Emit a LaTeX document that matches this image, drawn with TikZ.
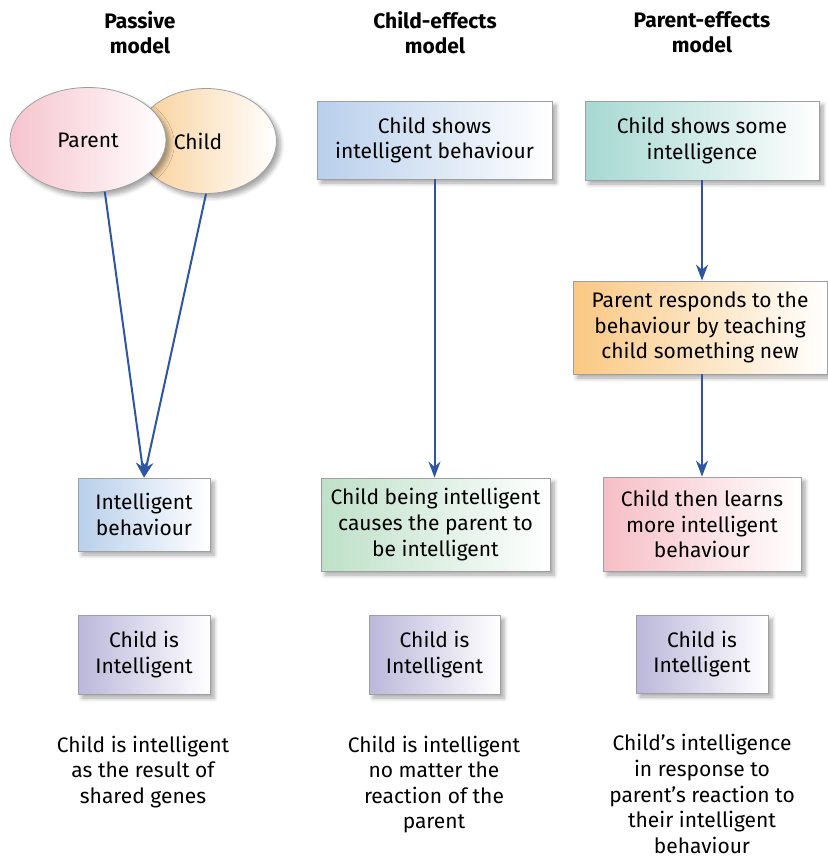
\documentclass[tikz,border=0pt]{standalone}
\usepackage{fontspec}
\setmainfont{Fira Sans}
\usetikzlibrary{positioning, arrows.meta, shapes.geometric, shadows.blur}

\definecolor{parentpink}{RGB}{246,196,206}
\definecolor{childorange}{RGB}{249,206,150}
\definecolor{boxblue}{RGB}{184,207,235}
\definecolor{boxgreen}{RGB}{190,224,200}
\definecolor{boxteal}{RGB}{166,216,210}
\definecolor{boxorange}{RGB}{250,200,130}
\definecolor{boxpink}{RGB}{246,190,198}
\definecolor{boxlilac}{RGB}{187,183,218}
\definecolor{linkblue}{RGB}{46,84,164}

\begin{document}
\begin{tikzpicture}[
  x=0.5pt, y=-0.5pt,
  font=\fontsize{10.5}{12.8}\selectfont,
  head/.style={font=\fontsize{10.5}{12.5}\selectfont\bfseries, align=center},
  card/.style={draw=gray!75, line width=0.4pt, align=center, inner sep=2pt,
    blur shadow={shadow xshift=2pt, shadow yshift=-2pt, shadow blur steps=6, shadow opacity=35}},
  blob/.style={card, ellipse},
  tint/.style={left color=#1, right color=white},
  note/.style={align=center},
  link/.style={-{Stealth[length=8pt, width=6pt]}, line width=1pt, draw=linkblue}
]
\useasboundingbox (0,0) rectangle (827,857);

% --- column headings ---
\node[head] (hpassive) at (140,32.5) {Passive\\model};
\node[head] (hchild)   at (435,32.5) {Child-effects\\model};
\node[head] (hparent)  at (702,32.5) {Parent-effects\\model};

% --- passive model ---
\node[blob, tint=childorange, minimum width=70.5pt, minimum height=52.5pt] (child) at (206,141) {\hspace*{-8pt}Child};
\node[blob, tint=parentpink, minimum width=78pt, minimum height=52.5pt] (parent) at (88,140) {Parent};
\node[card, tint=boxblue, minimum width=66pt, minimum height=36.5pt] (behav1) at (144,514.5) {Intelligent\\behaviour};
\node[card, tint=boxlilac, minimum width=66pt, minimum height=39.5pt] (isint1) at (144,654.5) {Child is\\Intelligent};
\node[note] (note1) at (143,772) {Child is intelligent\\as the result of\\shared genes};

\draw[link] (parent.-72) -- (behav1.north);
\draw[link] (child.south) -- (behav1.north);

% --- child-effects model ---
\node[card, tint=boxblue, minimum width=117.5pt, minimum height=39pt] (cshows) at (434.5,140) {Child shows\\intelligent behaviour};
\node[card, tint=boxgreen, minimum width=114.5pt, minimum height=46.5pt] (cbeing) at (435.5,524.5) {Child being intelligent\\causes the parent to\\be intelligent};
\node[card, tint=boxlilac, minimum width=65.5pt, minimum height=39.5pt] (isint2) at (434.5,654.5) {Child is\\Intelligent};
\node[note] (note2) at (434,784.5) {Child is intelligent\\no matter the\\reaction of the\\parent};

\draw[link] (cshows.south) -- (cshows.south |- cbeing.north);

% --- parent-effects model ---
\node[card, tint=boxteal, minimum width=117pt, minimum height=39.5pt] (csome) at (702,140.5) {Child shows some\\intelligence};
\node[card, tint=boxorange, minimum width=127pt, minimum height=46.5pt] (presp) at (700,327.5) {Parent responds to the\\behaviour by teaching\\child something new};
\node[card, tint=boxpink, minimum width=99pt, minimum height=47pt] (learns) at (702,524) {Child then learns\\more intelligent\\behaviour};
\node[card, tint=boxlilac, minimum width=66pt, minimum height=39pt] (isint3) at (702,654) {Child is\\Intelligent};
\node[note] (note3) at (702,794) {Child’s intelligence\\in response to\\parent’s reaction to\\their intelligent\\behaviour};

\draw[link] (csome.south) -- (csome.south |- presp.north);
\draw[link] (csome.south |- presp.south) -- (learns.north);

\end{tikzpicture}
\end{document}
